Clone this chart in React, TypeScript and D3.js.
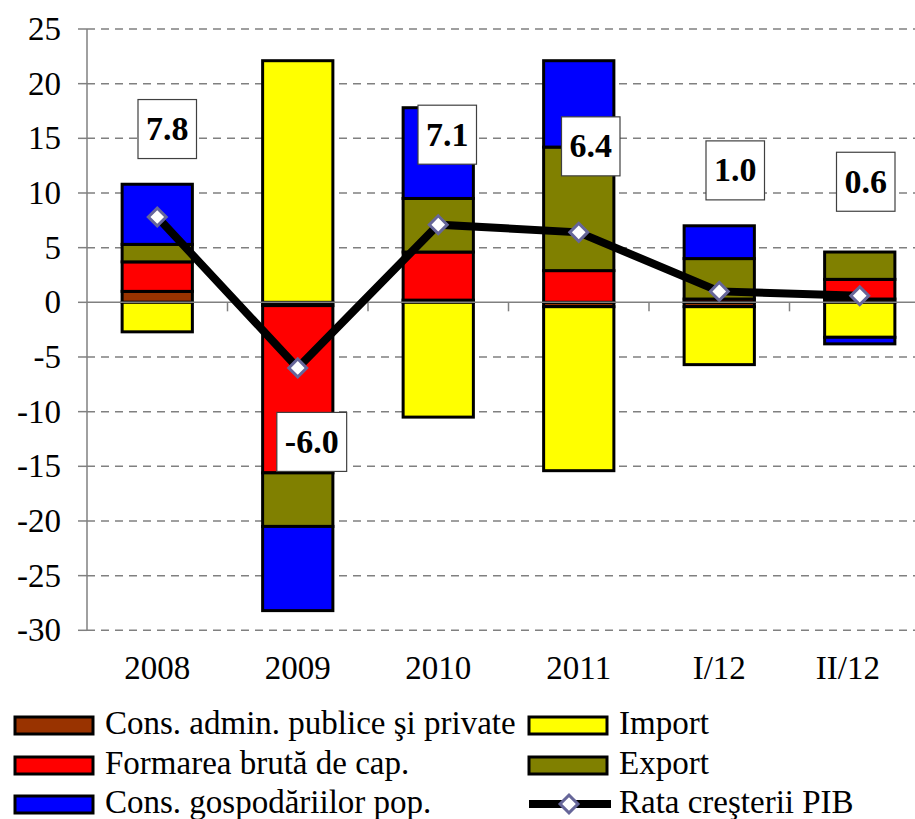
import React, { useEffect, useRef } from 'react';
import * as d3 from 'd3';

// values (percentage points)
const categories = ['2008', '2009', '2010', '2011', 'I/12', 'II/12'];
const consAdmin = [1.0, -0.3, 0.2, -0.4, -0.4, 0.3];
const importVals = [-2.7, 22.1, -10.5, -15.0, -5.3, -3.2];
const formarea = [2.7, -15.3, 4.4, 2.9, 0.3, 1.8];
const exportVals = [1.6, -4.9, 4.9, 11.3, 3.7, 2.5];
const consGosp = [5.5, -7.7, 8.3, 7.9, 3.0, -0.6];
const rataPIB = [7.8, -6.0, 7.1, 6.4, 1.0, 0.6];
const yTicks = [25, 20, 15, 10, 5, 0, -5, -10, -15, -20, -25, -30];

const series = [
  { key: 'admin', name: 'Cons. admin. publice şi private', color: '#993300', values: consAdmin },
  { key: 'import', name: 'Import', color: '#FFFF00', values: importVals },
  { key: 'formarea', name: 'Formarea brută de cap.', color: '#FF0000', values: formarea },
  { key: 'export', name: 'Export', color: '#808000', values: exportVals },
  { key: 'gosp', name: 'Cons. gospodăriilor pop.', color: '#0000FF', values: consGosp },
];

const FONT = '"Liberation Serif", "Times New Roman", serif';

// where each value box sits relative to its point (hand placed in the original)
const labelNudge = [[10, -88], [14, 74], [9, -90], [12, -86], [16, -121], [6, -114]];

const fmt = (v: number) => v.toFixed(1);

function Chart() {
  const ref = useRef<SVGSVGElement>(null);

  useEffect(() => {
    const W = 915;
    const left = 87;
    const right = 930;
    const top = 29;
    const bottom = 630.3;

    const svg = d3.select(ref.current);
    svg.selectAll('*').remove();

    const x = d3.scaleBand<string>()
      .domain(categories)
      .range([left, right])
      .paddingInner(0.5)
      .paddingOuter(0.25);

    const y = d3.scaleLinear()
      .domain([-30, 25])
      .range([bottom, top]);

    const cx = (c: string) => (x(c) as number) + x.bandwidth() / 2;

    // grid
    svg.append('g')
      .selectAll('line')
      .data(yTicks.filter(t => t !== 0))
      .enter().append('line')
      .attr('x1', left).attr('x2', W)
      .attr('y1', d => y(d)).attr('y2', d => y(d))
      .attr('stroke', '#808080')
      .attr('stroke-width', 1.5)
      .attr('stroke-dasharray', '8,6');

    // y axis
    svg.append('line')
      .attr('x1', left).attr('x2', left)
      .attr('y1', top).attr('y2', bottom)
      .attr('stroke', '#808080').attr('stroke-width', 1.5);

    svg.append('g')
      .selectAll('line')
      .data(yTicks)
      .enter().append('line')
      .attr('x1', left - 9).attr('x2', left)
      .attr('y1', d => y(d)).attr('y2', d => y(d))
      .attr('stroke', '#808080').attr('stroke-width', 1.5);

    svg.append('g')
      .selectAll('text')
      .data(yTicks)
      .enter().append('text')
      .attr('x', 61)
      .attr('y', d => y(d) + 11)
      .attr('text-anchor', 'end')
      .style('font-family', FONT)
      .style('font-size', '33px')
      .text(d => String(d));

    // bars
    const rows = categories.map((c, i) => {
      const r: any = { cat: c };
      series.forEach(s => { r[s.key] = s.values[i]; });
      return r;
    });

    const stacked = d3.stack<any>()
      .keys(series.map(s => s.key))
      .offset(d3.stackOffsetDiverging)(rows);

    stacked.forEach((layer, li) => {
      svg.append('g')
        .selectAll('rect')
        .data(layer)
        .enter().append('rect')
        .attr('x', d => x(d.data.cat) as number)
        .attr('width', x.bandwidth())
        .attr('y', d => y(Math.max(d[0], d[1])))
        .attr('height', d => Math.abs(y(d[0]) - y(d[1])))
        .attr('fill', series[li].color)
        .attr('stroke', '#000')
        .attr('stroke-width', 3);
    });

    // zero line and category ticks
    svg.append('line')
      .attr('x1', left).attr('x2', W)
      .attr('y1', y(0)).attr('y2', y(0))
      .attr('stroke', '#808080').attr('stroke-width', 1.5);

    svg.append('g')
      .selectAll('line')
      .data(categories.slice(1))
      .enter().append('line')
      .attr('x1', d => (x(d) as number) - x.step() * x.paddingInner() / 2)
      .attr('x2', d => (x(d) as number) - x.step() * x.paddingInner() / 2)
      .attr('y1', y(0)).attr('y2', y(0) + 9)
      .attr('stroke', '#808080').attr('stroke-width', 1.5);

    svg.append('g')
      .selectAll('text')
      .data(categories)
      .enter().append('text')
      .attr('y', 679)
      .attr('text-anchor', 'middle')
      .style('font-family', FONT)
      .style('font-size', '33px')
      .text(d => d)
      .each(function (d) {
        const el = this as SVGTextElement;
        const half = el.getComputedTextLength() / 2;
        el.setAttribute('x', String(Math.min(cx(d), 880 - half)));
      });

    // growth line
    const line = d3.line<number>()
      .x((_, i) => cx(categories[i]))
      .y(d => y(d));

    svg.append('path')
      .attr('d', line(rataPIB))
      .attr('fill', 'none')
      .attr('stroke', '#000')
      .attr('stroke-width', 8);

    const diamond = d3.symbol().type(d3.symbolSquare).size(160);

    svg.append('g')
      .selectAll('path')
      .data(rataPIB)
      .enter().append('path')
      .attr('d', diamond())
      .attr('transform', (d, i) => `translate(${cx(categories[i])},${y(d)}) rotate(45)`)
      .attr('fill', '#fff')
      .attr('stroke', '#666699')
      .attr('stroke-width', 3);

    // value boxes
    const boxes = svg.append('g')
      .selectAll('g')
      .data(rataPIB)
      .enter().append('g')
      .attr('transform', (d, i) =>
        `translate(${cx(categories[i]) + labelNudge[i][0]},${y(d) + labelNudge[i][1]})`);

    boxes.append('rect')
      .attr('fill', '#fff')
      .attr('stroke', '#404040')
      .attr('stroke-width', 1.2)
      .attr('y', -29.5)
      .attr('height', 59);

    boxes.append('text')
      .attr('text-anchor', 'middle')
      .attr('y', 11)
      .style('font-family', FONT)
      .style('font-size', '34px')
      .style('font-weight', 'bold')
      .text(d => fmt(d))
      .each(function () {
        const el = this as SVGTextElement;
        const w = el.getComputedTextLength() + 16;
        const r = el.previousSibling as SVGRectElement;
        r.setAttribute('x', String(-w / 2));
        r.setAttribute('width', String(w));
      });

    // legend
    const legendOrder = ['admin', 'import', 'formarea', 'export', 'gosp', 'line'];
    const colX = [15, 529];
    const rowY = [734, 774, 813];

    legendOrder.forEach((k, i) => {
      const gx = colX[i % 2];
      const gy = rowY[Math.floor(i / 2)];
      const g = svg.append('g').attr('transform', `translate(${gx},${gy})`);
      if (k === 'line') {
        g.append('line')
          .attr('x1', 0).attr('x2', 82)
          .attr('y1', -9).attr('y2', -9)
          .attr('stroke', '#000').attr('stroke-width', 8);
        g.append('path')
          .attr('d', diamond())
          .attr('transform', 'translate(40,-9) rotate(45)')
          .attr('fill', '#fff')
          .attr('stroke', '#666699')
          .attr('stroke-width', 3);
        g.append('text')
          .attr('x', 90)
          .attr('y', 0)
          .style('font-family', FONT)
          .style('font-size', '33px')
          .text('Rata creşterii PIB');
      } else {
        const s = series.find(d => d.key === k)!;
        g.append('rect')
          .attr('x', 0).attr('y', -17)
          .attr('width', 78).attr('height', 17)
          .attr('fill', s.color)
          .attr('stroke', '#000')
          .attr('stroke-width', 3);
        g.append('text')
          .attr('x', 90)
          .attr('y', 0)
          .style('font-family', FONT)
          .style('font-size', '33px')
          .text(s.name);
      }
    });
  }, []);

  return (
    <svg
      ref={ref}
      width={915}
      height={819}
      style={{ position: 'absolute', left: 0, top: 0, background: '#fff' }}
    />
  );
}

export default function App() {
  return <Chart />;
}
